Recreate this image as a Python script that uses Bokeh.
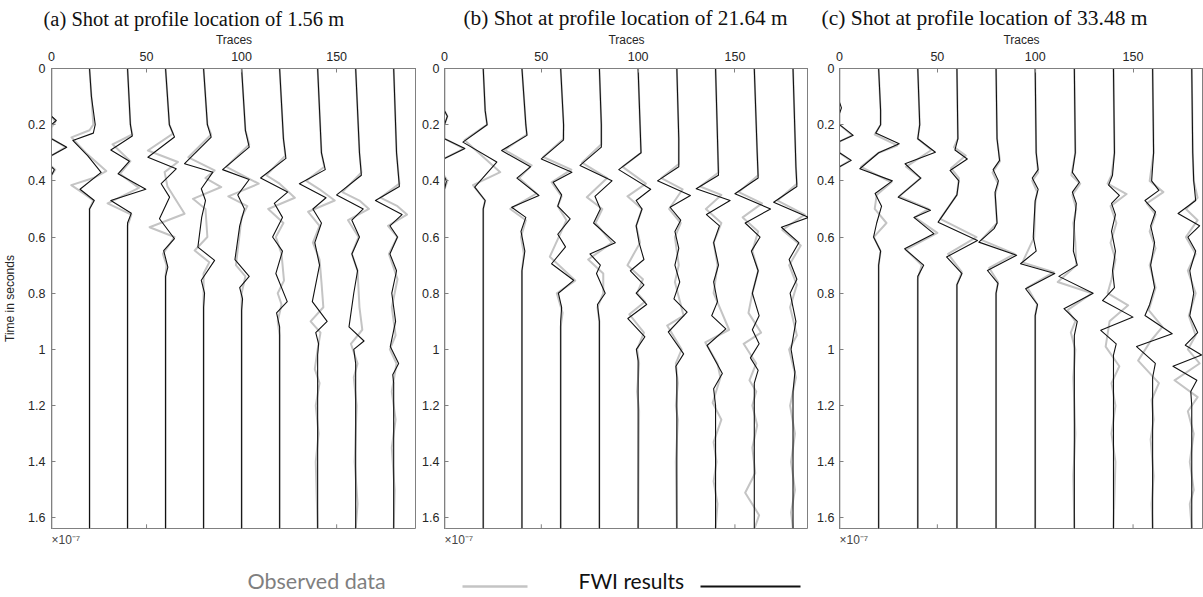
from bokeh.plotting import figure
from bokeh.models import Range1d, FixedTicker, Title, CustomJSTickFormatter
from bokeh.layouts import row, column
from bokeh.embed import file_html
from bokeh.resources import INLINE
from bokeh.core.properties import value

# ---------------- data ----------------
TRACE_POS = [0, 20, 40, 60, 80, 100, 120, 140, 160, 180]
Y_TICKS = [0, 0.2, 0.4, 0.6, 0.8, 1, 1.2, 1.4, 1.6]
Y_TICK_LABELS = ["0", "0.2", "0.4", "0.6", "0.8", "1", "1.2", "1.4", "1.6"]
X_TICKS = [0, 50, 100, 150]
X_TICK_LABELS = ["0", "50", "100", "150"]
TITLES = ["(a) Shot at profile location of 1.56 m",
          "(b) Shot at profile location of 21.64 m",
          "(c) Shot at profile location of 33.48 m"]
X_MAX = [192, 188, 186]
T_MAX = 1.6375
LEGEND_LABELS = ["Observed data", "FWI results"]

# each trace: list of (time [s], deflection [trace units])
a_fwi = [
    [(0,0),(0.17,0),(0.185,2.5),(0.2,0),(0.25,0),(0.28,8),(0.31,0),(0.33,-3),(0.36,1.5),(0.38,0),(1.64,0)],
    [(0,0),(0.1,1),(0.2,3),(0.23,2),(0.256,-8.8),(0.31,-1),(0.37,6.1),(0.43,-5),(0.47,2.5),(0.5,0),(1.64,0)],
    [(0,0),(0.2,1.5),(0.24,2.5),(0.29,-8.8),(0.33,1),(0.375,-5),(0.43,9.6),(0.47,-8.8),(0.515,2),(0.55,0),(1.64,0)],
    [(0,0),(0.2,2),(0.244,4.7),(0.316,-9.3),(0.357,5.6),(0.41,-2.3),(0.458,2.1),(0.535,-3.2),(0.606,4.7),(0.648,-1),(0.707,1.2),(0.74,0),(1.64,0)],
    [(0,0),(0.2,2),(0.244,4),(0.339,-10),(0.369,4.9),(0.428,-1.2),(0.47,1),(0.53,-1),(0.636,-3),(0.683,5.8),(0.754,-1.2),(0.8,0.5),(0.85,0),(1.64,0)],
    [(0,0),(0.22,2),(0.28,4),(0.36,-10),(0.395,4),(0.45,-2),(0.5,1.5),(0.56,-1),(0.68,-3.5),(0.74,4),(0.78,-1),(0.82,0.5),(0.86,0),(1.64,0)],
    [(0,0),(0.25,2),(0.32,3.3),(0.39,-10),(0.44,4.2),(0.48,-2.8),(0.53,1.5),(0.6,-3.7),(0.65,1.5),(0.73,-2),(0.83,4),(0.87,-1.6),(0.92,0),(1.64,0)],
    [(0,0),(0.3,2),(0.36,4),(0.41,-9.6),(0.46,4.4),(0.5,-2.5),(0.55,2),(0.62,-1.5),(0.7,1),(0.83,-2.8),(0.9,5),(0.94,-1),(0.98,0.5),(1.02,0),(1.64,0)],
    [(0,0),(0.3,2),(0.38,3),(0.45,-10),(0.5,4),(0.54,-2),(0.6,2),(0.66,-2),(0.72,1),(0.8,-1),(0.92,-3.5),(0.97,4.4),(1.0,-1),(1.05,0),(1.64,0)],
    [(0,0),(0.3,1.5),(0.42,3),(0.47,-9.6),(0.52,4.4),(0.56,-2),(0.6,2),(0.66,-2),(0.72,1.5),(0.8,-1),(0.9,1),(0.99,-1.8),(1.05,2.6),(1.09,-0.5),(1.12,0),(1.64,0)],
]
a_obs = [
    [(0,0),(0.17,0),(0.19,2),(0.21,0),(0.25,0),(0.28,7.5),(0.31,0),(0.33,-3),(0.36,2),(0.38,0),(1.64,0)],
    [(0,0),(0.1,1),(0.2,2),(0.22,0),(0.245,-9.5),(0.3,-2),(0.365,8.8),(0.39,2),(0.415,-9.6),(0.45,-2),(0.47,2),(0.5,0),(1.64,0)],
    [(0,0),(0.2,1.5),(0.235,2.5),(0.27,-7.9),(0.33,1.5),(0.375,-4),(0.425,6),(0.48,-10.5),(0.52,2),(0.56,0),(1.64,0)],
    [(0,0),(0.2,2),(0.232,3.9),(0.292,-9.3),(0.333,6.5),(0.369,-0.5),(0.42,1),(0.517,10),(0.565,-8.4),(0.6,4.7),(0.66,-1.4),(0.7,0.5),(0.74,0),(1.64,0)],
    [(0,0),(0.2,2),(0.235,4),(0.316,-8),(0.363,5.8),(0.39,1),(0.422,9.3),(0.464,-5.6),(0.5,1),(0.6,2),(0.648,-4.7),(0.69,3),(0.73,0),(1.64,0)],
    [(0,0),(0.22,2),(0.27,4),(0.35,-8),(0.41,9),(0.455,-7),(0.49,3),(0.53,0),(0.7,-3),(0.74,2),(0.8,0),(1.64,0)],
    [(0,0),(0.25,2),(0.31,3),(0.38,-7),(0.41,0),(0.46,8),(0.5,-6),(0.55,2),(0.6,-2),(0.66,1),(0.755,2.3),(0.8,-1),(0.84,1),(0.9,-1),(0.95,0),(1.64,0)],
    [(0,0),(0.3,2),(0.35,3.5),(0.4,-6),(0.43,1),(0.47,9),(0.51,-5),(0.56,1),(0.62,-2.5),(0.68,1),(0.76,2),(0.85,3),(0.9,-3.7),(0.94,1.5),(1.0,0),(1.07,-1.5),(1.12,1),(1.2,-1),(1.3,0.5),(1.4,-1),(1.64,0)],
    [(0,0),(0.3,2),(0.37,3),(0.44,-7),(0.47,2),(0.5,7),(0.54,-4),(0.6,1.5),(0.66,-2),(0.72,1),(0.85,2),(0.93,3.5),(0.98,-2.5),(1.05,1),(1.1,-1),(1.2,0.5),(1.4,-0.5),(1.55,1),(1.64,0)],
    [(0,0),(0.3,1.5),(0.41,3),(0.46,-7),(0.49,2),(0.52,7),(0.56,-3),(0.6,2),(0.66,-2.5),(0.75,2),(0.85,-1),(0.95,1),(1.0,-2),(1.05,1.5),(1.15,-1),(1.25,1),(1.35,-1),(1.5,0.5),(1.64,0)],
]
b_fwi = [
    [(0,0),(0.15,0),(0.17,1.5),(0.2,0),(0.25,0),(0.285,10.5),(0.32,0),(0.36,-2),(0.4,1),(0.43,0),(1.64,0)],
    [(0,0),(0.15,1),(0.2,2),(0.262,-10.5),(0.333,7),(0.422,-4.4),(0.47,1),(0.5,0),(1.64,0)],
    [(0,0),(0.2,2),(0.238,2.6),(0.292,-10.5),(0.35,4.4),(0.39,-2.6),(0.452,8.8),(0.494,-5.3),(0.53,2),(0.58,-0.5),(0.65,1.5),(0.72,0),(1.64,0)],
    [(0,0),(0.2,1.5),(0.255,1.4),(0.322,-10),(0.369,5.8),(0.405,-3.9),(0.45,0.5),(0.49,-1.5),(0.535,4.9),(0.59,-1.5),(0.635,2.5),(0.695,-4.7),(0.754,6.7),(0.8,-1.2),(0.85,0.5),(0.9,0),(1.64,0)],
    [(0,0),(0.2,1),(0.28,1),(0.345,-10),(0.4,6.5),(0.455,-2.3),(0.5,0.5),(0.55,-3),(0.62,8.2),(0.66,-4.9),(0.7,0.5),(0.73,-1.5),(0.8,3),(0.84,-1),(0.9,0),(1.64,0)],
    [(0,0),(0.2,1),(0.3,1.5),(0.36,-10),(0.43,6.5),(0.47,-1),(0.5,2),(0.56,-1),(0.62,0.5),(0.68,3),(0.72,-4),(0.77,3),(0.8,-1),(0.84,4.4),(0.89,-5.3),(0.955,3.5),(1.0,-0.9),(1.04,0),(1.64,0)],
    [(0,0),(0.25,1),(0.35,1),(0.4,-10),(0.452,7),(0.494,-3.5),(0.54,2),(0.58,-1),(0.64,1),(0.7,-1),(0.76,1.5),(0.82,-1.5),(0.867,5.3),(0.938,-4.4),(1.016,3.5),(1.06,-0.5),(1.1,0),(1.64,0)],
    [(0,0),(0.25,1),(0.38,1.5),(0.428,-10),(0.47,7.5),(0.52,-4.7),(0.56,2),(0.62,-1),(0.7,1.5),(0.76,-1),(0.83,1),(0.88,-2),(0.927,5.3),(0.986,-4.4),(1.086,3.5),(1.14,-1),(1.2,0),(1.64,0)],
    [(0,0),(0.3,1.5),(0.39,2),(0.446,-10),(0.5,8.4),(0.55,-4.7),(0.6,3),(0.65,-1.5),(0.72,2),(0.8,-1),(0.88,2.5),(0.93,-1),(0.98,2.5),(1.03,-2),(1.074,2),(1.12,0),(1.64,0)],
    [(0,0),(0.35,1.5),(0.42,2),(0.476,-10),(0.53,8),(0.565,-6),(0.62,3),(0.68,-2),(0.75,2),(0.8,-1.5),(0.9,1.5),(1.0,-1),(1.08,1),(1.15,0),(1.64,0)],
]
b_obs = [
    [(0,0),(0.15,0),(0.17,1.5),(0.2,0),(0.25,0),(0.285,10),(0.32,0),(0.36,-2),(0.4,1.5),(0.43,0),(1.64,0)],
    [(0,0),(0.15,1),(0.2,2),(0.255,-9.6),(0.369,8.8),(0.415,-5.3),(0.47,1),(0.5,0),(1.64,0)],
    [(0,0),(0.2,2),(0.235,2.5),(0.29,-9),(0.345,5),(0.39,-1.5),(0.445,7.5),(0.5,-6),(0.54,2),(0.6,-0.5),(0.66,1),(0.72,0),(1.64,0)],
    [(0,0),(0.2,1.5),(0.25,1.5),(0.315,-9),(0.36,5.5),(0.405,-4.7),(0.455,0.5),(0.49,-1.5),(0.54,3),(0.6,-1),(0.67,-5.6),(0.755,7.5),(0.8,-2),(0.87,1),(0.92,0),(1.64,0)],
    [(0,0),(0.2,1),(0.27,1),(0.335,-9),(0.39,4),(0.458,-6.5),(0.5,1.5),(0.55,-2),(0.62,6.5),(0.68,-5.8),(0.73,2),(0.8,2),(0.85,-1),(0.9,0),(1.64,0)],
    [(0,0),(0.2,1),(0.3,1.5),(0.35,-8),(0.41,4),(0.455,-5.5),(0.5,2),(0.56,-1),(0.62,1),(0.7,-5.5),(0.75,2.5),(0.8,-0.5),(0.83,3.5),(0.875,-4.5),(0.94,3),(1.0,-0.5),(1.05,0.5),(1.15,-0.5),(1.22,0.5),(1.64,0)],
    [(0,0),(0.25,1),(0.34,1),(0.39,-8),(0.43,3),(0.5,-4),(0.55,2),(0.6,-1),(0.7,1),(0.76,-1),(0.88,3.5),(0.915,-5),(1.0,2.5),(1.05,-0.5),(1.12,0.5),(1.2,-0.5),(1.25,0.5),(1.4,-0.5),(1.64,0)],
    [(0,0),(0.25,1),(0.37,1.5),(0.42,-8),(0.45,3),(0.5,-5),(0.55,3),(0.62,-1),(0.7,1),(0.8,-1),(0.93,7),(0.975,-5.3),(1.05,1),(1.1,2.5),(1.19,-1.5),(1.25,3),(1.33,-1),(1.4,0.5),(1.47,-1),(1.55,1),(1.64,0)],
    [(0,0),(0.3,1.5),(0.38,2),(0.44,-8),(0.48,4),(0.53,-6),(0.58,2),(0.65,-1),(0.72,2),(0.8,-1),(0.87,-3),(0.94,3.5),(0.98,-5.5),(1.05,1),(1.11,-2.5),(1.15,1),(1.2,-1),(1.27,1.5),(1.35,-1),(1.44,0.5),(1.51,-4.7),(1.59,2.5),(1.64,0)],
    [(0,0),(0.35,1.5),(0.41,2),(0.47,-8),(0.52,6),(0.575,-5.5),(0.63,4),(0.7,-2),(0.77,2),(0.85,-1.5),(0.95,2),(1.0,-2),(1.1,1.5),(1.2,-1.5),(1.3,1),(1.4,-1),(1.5,1),(1.58,-1),(1.64,0)],
]
c_fwi = [
    [(0,0),(0.12,0),(0.14,1),(0.16,0),(0.2,0),(0.238,7),(0.26,0),(0.3,0),(0.327,6),(0.35,0),(1.64,0)],
    [(0,0),(0.15,1),(0.2,1),(0.23,-1.5),(0.268,10.5),(0.3,0),(0.357,-9.6),(0.4,7),(0.445,-1.8),(0.49,1.5),(0.55,-1),(0.6,-2.6),(0.65,1),(0.7,0),(1.64,0)],
    [(0,0),(0.2,1),(0.25,0),(0.298,9),(0.339,-6.5),(0.39,1.5),(0.458,-10),(0.505,6.5),(0.53,-2),(0.588,8.2),(0.642,-6.7),(0.7,3),(0.74,0),(1.64,0)],
    [(0,0),(0.25,0.5),(0.29,-1),(0.322,5.3),(0.363,-3.5),(0.4,1),(0.45,0),(0.547,-9.6),(0.612,10.5),(0.671,-5.3),(0.73,2.6),(0.77,0),(1.64,0)],
    [(0,0),(0.25,0.5),(0.327,1.8),(0.36,-1.5),(0.4,1.2),(0.44,-0.5),(0.55,0.5),(0.57,-1),(0.618,-8.8),(0.665,10.5),(0.719,-4.4),(0.765,1),(0.8,0),(1.64,0)],
    [(0,0),(0.3,0.5),(0.36,1.5),(0.39,-1.5),(0.43,1.5),(0.47,0),(0.6,-1),(0.65,0.5),(0.695,-7.5),(0.73,10),(0.784,-4.9),(0.84,1.2),(0.88,0),(1.64,0)],
    [(0,0),(0.3,0.5),(0.37,-1),(0.405,2.6),(0.44,-1),(0.48,1),(0.55,0),(0.65,-0.5),(0.7,1.5),(0.74,-7.9),(0.8,9.6),(0.855,-5.3),(0.9,1.5),(0.95,0),(1.64,0)],
    [(0,0),(0.3,0.5),(0.38,-0.5),(0.415,-2.5),(0.452,3),(0.48,-1),(0.52,1),(0.58,-1),(0.65,1),(0.72,-0.5),(0.78,0.5),(0.826,-5.6),(0.885,10),(0.932,-6.5),(0.98,1.4),(1.02,0),(1.64,0)],
    [(0,0),(0.3,0.5),(0.4,-0.5),(0.434,3.2),(0.47,-3.9),(0.51,1.5),(0.56,-1),(0.62,1),(0.7,-1),(0.78,1),(0.84,-1.5),(0.879,-3.9),(0.944,10),(0.99,-8.2),(1.05,1.4),(1.1,0),(1.64,0)],
    [(0,0),(0.3,0.5),(0.4,1),(0.47,2),(0.516,-7),(0.56,4),(0.6,-2),(0.65,2),(0.72,-1),(0.8,1),(0.88,-1),(0.94,3),(0.985,-3.3),(1.02,5),(1.06,-9.6),(1.11,2.6),(1.15,-0.5),(1.2,0),(1.64,0)],
]
c_obs = [
    [(0,0),(0.2,0),(0.238,6.5),(0.26,0),(0.3,0),(0.327,5.5),(0.35,0),(1.64,0)],
    [(0,0),(0.15,1),(0.2,1),(0.235,-2),(0.274,9.5),(0.3,0),(0.35,-9),(0.405,6.5),(0.45,-1),(0.5,-2),(0.55,4),(0.6,-2.5),(0.65,1),(0.7,0),(1.64,0)],
    [(0,0),(0.2,1),(0.25,0),(0.29,7),(0.35,-6),(0.39,1.5),(0.455,-9.5),(0.5,5.5),(0.53,-1.5),(0.585,10),(0.645,-6),(0.7,2),(0.75,0),(1.64,0)],
    [(0,0),(0.25,0.5),(0.28,-1.5),(0.31,4.5),(0.355,-3),(0.39,1),(0.45,0),(0.535,-8.5),(0.6,10),(0.66,-4.5),(0.725,2.5),(0.77,0),(1.64,0)],
    [(0,0),(0.25,0.5),(0.33,2),(0.37,-1.8),(0.41,1),(0.45,-0.5),(0.55,0.5),(0.61,-7.5),(0.66,9.5),(0.71,-3.5),(0.76,1),(0.8,0),(1.64,0)],
    [(0,0),(0.3,0.5),(0.37,1.5),(0.4,-1.5),(0.44,1),(0.48,0),(0.6,-0.5),(0.69,-6.5),(0.725,9.5),(0.78,-4),(0.84,1),(0.88,0),(1.64,0)],
    [(0,0),(0.3,0.5),(0.38,-1.5),(0.41,3),(0.45,-1),(0.5,1),(0.55,-0.5),(0.62,0.5),(0.7,1),(0.76,-8.5),(0.8,9),(0.86,-3.5),(0.9,0.5),(0.94,-1.8),(1.0,0.5),(1.1,-0.5),(1.3,0.5),(1.45,-0.5),(1.64,0)],
    [(0,0),(0.3,0.5),(0.38,-1),(0.41,-3),(0.447,6.7),(0.49,-1.5),(0.55,1.5),(0.62,-1.5),(0.68,1),(0.75,-1),(0.8,-3),(0.843,7.5),(0.9,-2),(0.99,-4),(1.06,3),(1.12,-1),(1.2,1),(1.3,-1),(1.4,1),(1.64,0)],
    [(0,0),(0.3,0.5),(0.4,-1.5),(0.44,5.5),(0.48,-3),(0.52,1.5),(0.58,-1.5),(0.64,1.5),(0.7,-1.5),(0.78,1.5),(0.86,-2),(0.92,5),(0.97,-1),(1.04,-7.4),(1.12,3.2),(1.18,-0.5),(1.25,0.5),(1.32,-1),(1.45,0.5),(1.55,-0.5),(1.64,0)],
    [(0,0),(0.3,0.5),(0.4,1),(0.46,3),(0.5,-3),(0.54,3),(0.6,-3),(0.66,2),(0.72,-2),(0.8,2),(0.88,-1.5),(0.95,2),(1.0,-2),(1.05,4),(1.11,-8.8),(1.17,3),(1.22,-2),(1.3,1),(1.4,-1),(1.5,1),(1.55,-1),(1.64,0)],
]

# ---------------- style ----------------
OBS_COLOR = "#c4c4c4"
FWI_COLOR = "#111111"
AXIS_COLOR = "#808080"
LABEL_COLOR = "#262626"
SANS = "Liberation Sans"
SERIF = "Liberation Serif"
PANEL_H = 558
TICK_LEN_T = 0.015   # inward tick length on the bottom edge, in seconds


def traces_xy(traces):
    xs, ys = [], []
    for pos, tr in zip(TRACE_POS, traces):
        xs.append([pos + d for _, d in tr])
        ys.append([t for t, _ in tr])
    return xs, ys


def make_panel(title, fwi, obs, xmax, border_left, frame_w, ylabel, title_offset, title_size):
    p = figure(frame_width=frame_w, frame_height=460,
               x_range=Range1d(0, xmax), y_range=Range1d(T_MAX, 0),
               x_axis_location="above", output_backend="svg", toolbar_location=None,
               min_border_left=border_left, min_border_right=0,
               min_border_top=68, min_border_bottom=PANEL_H - 68 - 460,
               background_fill_color="white", border_fill_color="white",
               outline_line_color=AXIS_COLOR, outline_line_width=1)
    p.grid.visible = False

    p.title.text = title
    p.title.text_font = SERIF
    p.title.text_font_size = title_size
    p.title.text_font_style = "normal"
    p.title.text_color = "#111111"
    p.title.align = "left"
    p.title.offset = title_offset
    p.title.standoff = 0

    xa = p.xaxis[0]
    xa.ticker = FixedTicker(ticks=X_TICKS)
    xa.major_label_overrides = dict(zip(X_TICKS, X_TICK_LABELS))
    xa.axis_label = "Traces"
    ya = p.yaxis[0]
    ya.ticker = FixedTicker(ticks=Y_TICKS)
    ya.formatter = CustomJSTickFormatter(code="return String(Math.round(tick*10)/10)")
    ya.major_label_overrides = dict(zip(Y_TICKS, Y_TICK_LABELS))
    if ylabel:
        ya.axis_label = ylabel
    for ax in (xa, ya):
        ax.axis_line_color = AXIS_COLOR
        ax.major_tick_line_color = AXIS_COLOR
        ax.major_tick_in = 4
        ax.major_tick_out = 0
        ax.minor_tick_in = 0
        ax.minor_tick_out = 0
        ax.major_label_text_font = SANS
        ax.major_label_text_font_size = "12.5px"
        ax.major_label_text_color = LABEL_COLOR
        ax.axis_label_text_font = SANS
        ax.axis_label_text_font_size = "12px"
        ax.axis_label_text_font_style = "normal"
        ax.axis_label_text_color = LABEL_COLOR
    xa.major_label_standoff = 8
    xa.axis_label_standoff = 2
    ya.major_label_standoff = 6 if ylabel else 5
    ya.axis_label_standoff = 8

    # inward ticks on the bottom edge
    p.segment(x0=X_TICKS, y0=[T_MAX] * len(X_TICKS), x1=X_TICKS,
              y1=[T_MAX - TICK_LEN_T] * len(X_TICKS), line_color=AXIS_COLOR, line_width=1)

    p.add_layout(Title(text="×10⁻⁷", align="left", text_font=SANS, text_font_size="12px",
                       text_font_style="normal", text_color="#444444", standoff=4), "below")

    oxs, oys = traces_xy(obs)
    p.multi_line(oxs, oys, line_color=OBS_COLOR, line_width=2.0, line_join="round")
    fxs, fys = traces_xy(fwi)
    p.multi_line(fxs, fys, line_color=FWI_COLOR, line_width=1.1, line_join="round")
    return p


pa = make_panel(TITLES[0], a_fwi, a_obs, X_MAX[0], 50, 365, "Time in seconds", -8, "20.5px")
pb = make_panel(TITLES[1], b_fwi, b_obs, X_MAX[1], 28, 364, None, 19, "21.3px")
pc = make_panel(TITLES[2], c_fwi, c_obs, X_MAX[2], 31, 364, None, -18, "21.5px")

# legend strip
LEG_W, LEG_H = 1202, 597 - PANEL_H
leg = figure(frame_width=LEG_W, frame_height=LEG_H, x_range=Range1d(0, LEG_W),
             y_range=Range1d(LEG_H, 0), output_backend="svg", toolbar_location=None,
             min_border=0, outline_line_color=None)
leg.axis.visible = False
leg.grid.visible = False
leg.text(x=[247], y=[22], text=[LEGEND_LABELS[0]], text_font=value("Lato"),
         text_font_size="21.5px", text_color="#7f7f7f", text_baseline="middle")
leg.line(x=[462, 527], y=[28, 28], line_color=OBS_COLOR, line_width=2.5)
leg.text(x=[578], y=[22], text=[LEGEND_LABELS[1]], text_font=value("Lato"),
         text_font_size="21px", text_color="#111111", text_baseline="middle")
leg.line(x=[700, 800], y=[28, 28], line_color=FWI_COLOR, line_width=2)

layout = column(row(pa, pb, pc, spacing=0), leg, spacing=0)
open("out.html", "w").write(file_html(layout, INLINE))
